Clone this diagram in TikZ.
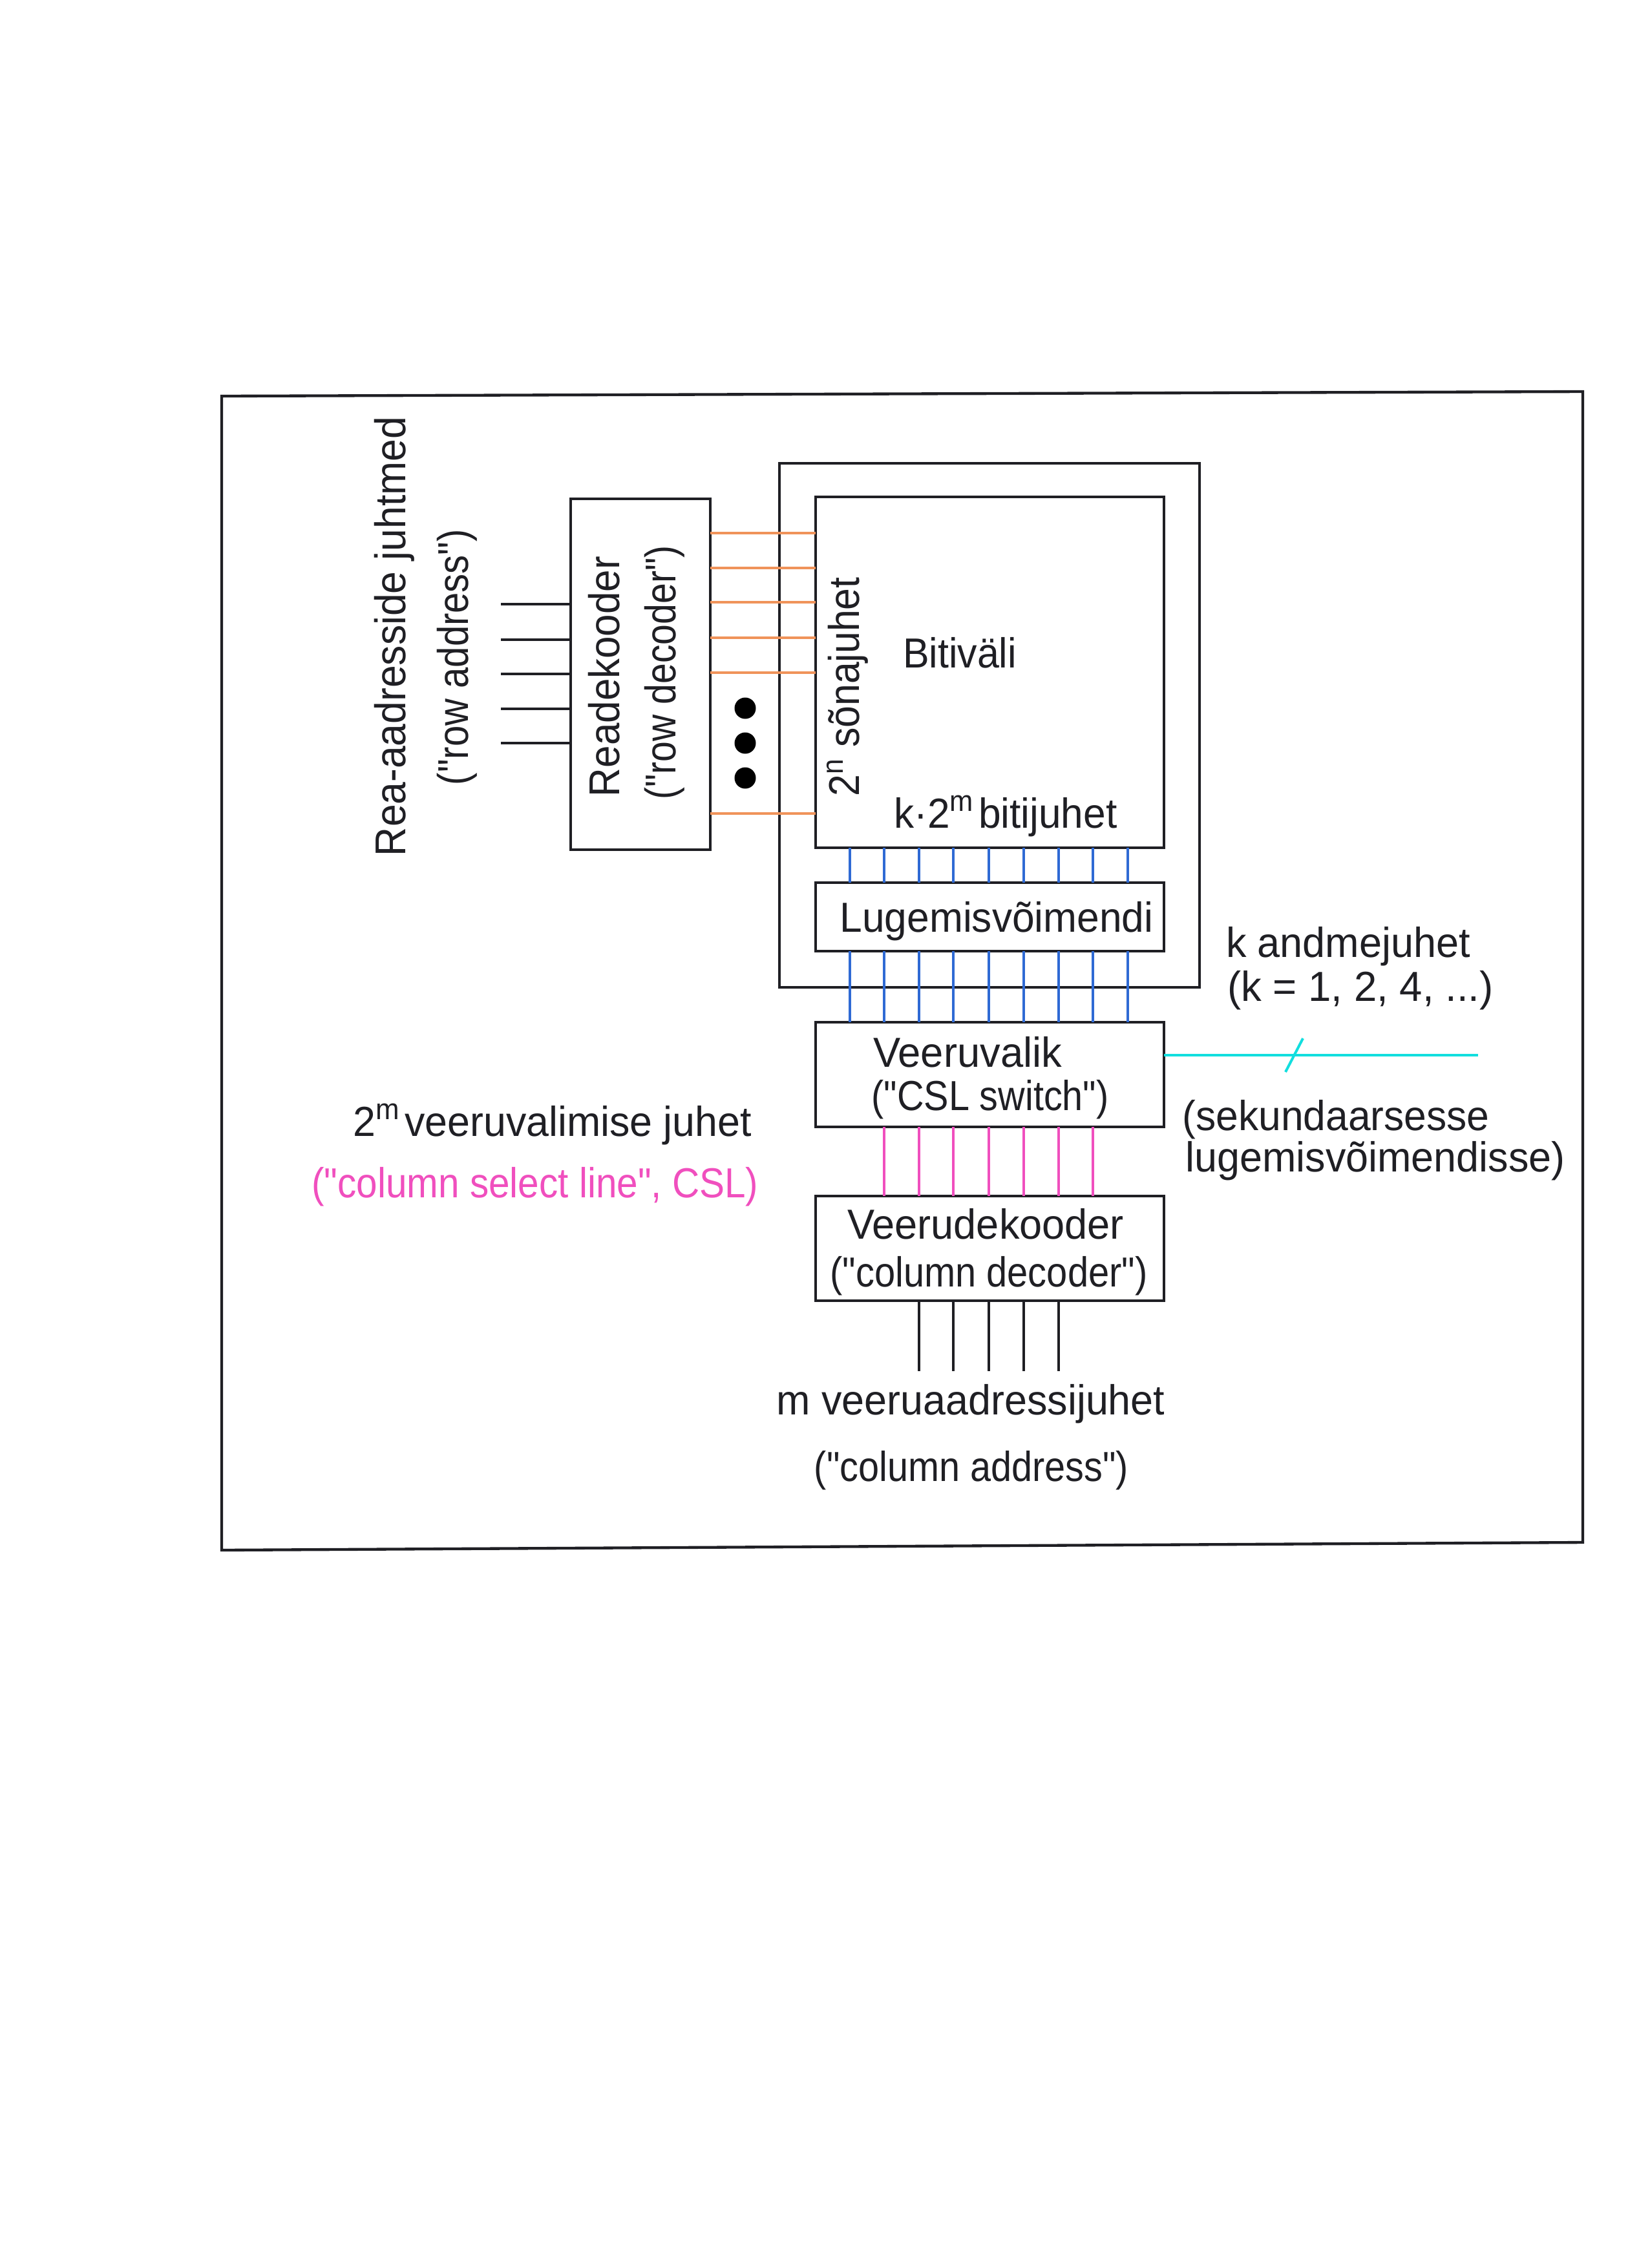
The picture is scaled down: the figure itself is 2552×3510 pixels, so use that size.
\documentclass[tikz,border=0pt]{standalone}
\usepackage{graphicx}
\usepackage{fontspec}
\setmainfont{Liberation Sans}[Ligatures=TeXOff]
\newlength\pxu
\setlength\pxu{0.3pt}
\newcommand\fitw[2]{\resizebox{#1\pxu}{\height}{#2}}
\definecolor{wordc}{HTML}{F0935A}
\definecolor{bitc}{HTML}{2F6AD4}
\definecolor{cslc}{HTML}{F04FBE}
\definecolor{datac}{HTML}{12DEDE}
\definecolor{inkc}{HTML}{1F1F24}
\tikzset{
  box/.style={draw=inkc,line width=1.05pt,inner sep=0pt,outer sep=0pt},
  lbl/.style={inner sep=0pt,outer sep=0pt,text=inkc,font=\fontsize{19.5}{21}\selectfont},
  rlbl/.style={lbl,rotate=90,font=\fontsize{20}{22}\selectfont},
  wordw/.style={draw=wordc,line width=1pt},
  bitw/.style={draw=bitc,line width=1.05pt},
  cslw/.style={draw=cslc,line width=1pt},
  addrw/.style={draw=inkc,line width=1pt},
  dataw/.style={draw=datac,line width=1.2pt},
  dotn/.style={circle,fill=black,inner sep=0pt,outer sep=0pt,minimum size=33\pxu},
}
\begin{document}
\begin{tikzpicture}[x=0.3pt,y=-0.3pt]
\useasboundingbox (0,0) rectangle (2552,3510);
\fill[white] (0,0) rectangle (2552,3510);
% page frame (slightly skewed as scanned)
\draw[draw=inkc,line width=1.3pt,line join=miter] (343,613) -- (2449,606) -- (2449,2387) -- (343,2399) -- cycle;
% boxes
\node[box,minimum width=650\pxu,minimum height=811\pxu] (mem) at (1531,1122.5) {};
\node[box,minimum width=539\pxu,minimum height=543\pxu] (bit) at (1531.5,1040.5) {};
\node[box,minimum width=216\pxu,minimum height=543\pxu] (rdec) at (991,1043.5) {};
\node[box,minimum width=539\pxu,minimum height=106\pxu] (amp) at (1531.5,1419) {};
\node[box,minimum width=539\pxu,minimum height=162\pxu] (csl) at (1531.5,1663) {};
\node[box,minimum width=539\pxu,minimum height=162\pxu] (cdec) at (1531.5,1932) {};
% row address lines
\foreach \i/\yy in {1/935,2/990,3/1043,4/1097,5/1150}{
  \coordinate (ra\i) at (775,\yy);
  \draw[addrw] (ra\i) -- (ra\i -| rdec.west);
}
% word lines
\foreach \i/\yy in {1/825,2/879,3/932,4/987,5/1041,6/1259}{
  \coordinate (wl\i) at (1099,\yy);
  \draw[wordw] (wl\i) -- (wl\i -| bit.west);
}
% bit lines
\foreach \i/\xx in {1/1315,2/1368,3/1422,4/1475,5/1530,6/1584,7/1638,8/1691,9/1745}{
  \coordinate (bl\i) at (\xx,1400);
  \draw[bitw] (bl\i |- bit.south) -- (bl\i |- amp.north);
  \draw[bitw] (bl\i |- amp.south) -- (bl\i |- csl.north);
}
% column select lines
\foreach \i in {2,...,8}{
  \draw[cslw] (bl\i |- csl.south) -- (bl\i |- cdec.north);
}
% column address lines
\coordinate (caend) at (1530,2122);
\foreach \i in {3,...,7}{
  \draw[addrw] (bl\i |- cdec.south) -- (bl\i |- caend);
}
% data line with slash
\coordinate (dend) at (2287,1633);
\coordinate (sla) at (1989,1659);
\coordinate (slb) at (2016,1607);
\draw[dataw] (dend -| csl.east) -- (dend);
\draw[dataw] (sla) -- (slb);
% dots
\node[dotn] (d1) at (1153,1096) {};
\node[dotn] (d2) at (1153,1150) {};
\node[dotn] (d3) at (1153,1204) {};
% labels
\node[rlbl] (t1) at (610,985) {\fitw{680}{Rea-aadresside juhtmed}};
\node[rlbl] (t2) at (707,1017) {\fitw{396}{("row address")}};
\node[rlbl] (t3) at (935,1047) {\fitw{372}{Readekooder}};
\node[rlbl] (t4) at (1028,1041) {\fitw{393}{("row decoder")}};
\node[rlbl] (t5) at (1311,1063) {\fitw{339}{2\textsuperscript{n} sõnajuhet}};
\node[lbl] (t6) at (1485,1010) {\fitw{176}{Bitiväli}};
\node[lbl] (t7) at (1556,1263) {\fitw{345}{k·2\textsuperscript{m}\hspace{0.1em}bitijuhet}};
\node[lbl] (t8) at (1542,1426) {\fitw{485}{Lugemisvõimendi}};
\node[lbl] (t9) at (2086,1465) {\fitw{378}{k andmejuhet}};
\node[lbl] (t10) at (2105,1533) {\fitw{411}{(k = 1, 2, 4, ...)}};
\node[lbl] (t11) at (1497,1628) {\fitw{292}{Veeruvalik}};
\node[lbl] (t12) at (1532,1702) {\fitw{367}{("CSL switch")}};
\node[lbl] (t13) at (855,1740) {\fitw{616}{2\textsuperscript{m}\hspace{0.1em}veeruvalimise juhet}};
\node[lbl,text=cslc] (t14) at (828,1837) {\fitw{691}{("column select line", CSL)}};
\node[lbl] (t15) at (2067,1733) {\fitw{475}{(sekundaarsesse}};
\node[lbl] (t16) at (2128,1797) {\fitw{587}{lugemisvõimendisse)}};
\node[lbl] (t17) at (1525,1894) {\fitw{428}{Veerudekooder}};
\node[lbl] (t18) at (1530,1975) {\fitw{491}{("column decoder")}};
\node[lbl] (t19) at (1502,2173) {\fitw{601}{m veeruaadressijuhet}};
\node[lbl] (t20) at (1503,2276) {\fitw{486}{("column address")}};
\end{tikzpicture}
\end{document}
